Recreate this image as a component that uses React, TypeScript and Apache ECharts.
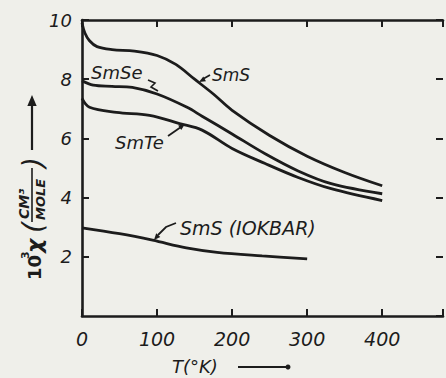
import React, { useEffect, useRef } from "react";
import * as echarts from "echarts";

const xTicks = [0, 100, 200, 300, 400];
const yTicks = [2, 4, 6, 8, 10];

const smsData: [number, number][] = [
  [0, 9.9], [4, 9.55], [10, 9.3], [20, 9.1], [40, 9.0], [70, 8.95], [100, 8.8],
  [125, 8.5], [150, 8.0], [175, 7.5], [200, 6.95], [250, 6.1], [300, 5.4],
  [350, 4.85], [400, 4.4],
];
const smseData: [number, number][] = [
  [0, 7.95], [15, 7.8], [40, 7.76], [67, 7.72], [100, 7.5], [140, 7.05],
  [160, 6.75], [200, 6.15], [244, 5.48], [288, 4.9], [332, 4.47], [400, 4.13],
];
const smteData: [number, number][] = [
  [0, 7.35], [10, 7.05], [46, 6.88], [90, 6.78], [130, 6.5], [160, 6.28],
  [200, 5.66], [244, 5.15], [288, 4.68], [332, 4.3], [400, 3.9],
];
const sms10Data: [number, number][] = [
  [0, 2.98], [50, 2.78], [94, 2.56], [139, 2.3], [180, 2.15], [240, 2.03], [300, 1.93],
];

const seriesNames = ["SmS", "SmSe", "SmTe", "SmS (IOKBAR)"];

const INK = "#1c1c1c";
const FONT = "'DejaVu Sans', sans-serif";

export default function App() {
  const ref = useRef<HTMLDivElement>(null);
  useEffect(() => {
    document.body.style.margin = "0";
    if (!ref.current) return;
    const chart = echarts.init(ref.current, undefined, { renderer: "svg" });
    const lineStyle = { color: INK, width: 2.8 };
    const mk = (name: string, data: [number, number][]) => ({
      name,
      type: "line",
      data,
      smooth: 0.35,
      showSymbol: false,
      lineStyle,
      xAxisIndex: 0,
      yAxisIndex: 0,
      z: 3,
    });
    const axisText = { color: INK, fontSize: 19, fontStyle: "italic", fontFamily: FONT };
    const arrowHead = (x: number, y: number, ang: number, s = 7) => {
      const a1 = ang + Math.PI - 0.4;
      const a2 = ang + Math.PI + 0.4;
      return {
        type: "polygon",
        shape: {
          points: [
            [x, y],
            [x + s * Math.cos(a1), y + s * Math.sin(a1)],
            [x + s * Math.cos(a2), y + s * Math.sin(a2)],
          ],
        },
        style: { fill: INK },
      };
    };
    const line = (pts: number[][], w = 1.8) => ({
      type: "polyline",
      shape: { points: pts },
      style: { stroke: INK, lineWidth: w, fill: "none" },
    });
    const label = (t: string, x: number, y: number, size = 16) => ({
      type: "text",
      x,
      y,
      style: {
        text: t,
        fill: INK,
        font: `italic ${size}px ${FONT}`,
        verticalAlign: "middle",
      },
    });
    const axisCommon = {
      type: "value",
      axisLine: { show: true, onZero: false, lineStyle: { color: INK, width: 2.6 } },
      axisTick: { show: true, inside: true, length: 7, lineStyle: { color: INK, width: 2 } },
      splitLine: { show: false },
    };
    chart.setOption({
      animation: false,
      backgroundColor: "#efefea",
      grid: { left: 82, top: 20, right: 0, bottom: 62 },
      xAxis: [
        {
          ...axisCommon,
          min: 0,
          max: 481,
          interval: 100,
          axisLabel: { ...axisText, margin: 13, formatter: (v: number) => (xTicks.includes(v) ? String(v) : "") },
        },
        {
          ...axisCommon,
          position: "top",
          min: 0,
          max: 481,
          interval: 100,
          axisLabel: { show: false },
        },
      ],
      yAxis: [
        {
          ...axisCommon,
          min: 0,
          max: 10,
          interval: 2,
          axisLabel: {
            ...axisText,
            fontSize: 18,
            margin: 10,
            showMinLabel: false,
            formatter: (v: number) => (yTicks.includes(v) ? String(v) : ""),
          },
        },
        {
          ...axisCommon,
          position: "right",
          min: 0,
          max: 10,
          interval: 2,
          axisLine: { show: false, onZero: false },
          axisLabel: { show: false },
        },
      ],
      series: [
        mk(seriesNames[0], smsData),
        mk(seriesNames[1], smseData),
        mk(seriesNames[2], smteData),
        mk(seriesNames[3], sms10Data),
      ],
      graphic: [
        label("SmSe", 91, 72, 18),
        line([[148, 80], [155, 83], [151, 87], [158, 91]], 1.6),
        label("SmS", 212, 75, 17),
        line([[210, 75], [203, 79]]),
        arrowHead(199, 82, Math.atan2(5, -9), 7),
        label("SmTe", 115, 142, 18),
        line([[168, 136], [181, 127]]),
        arrowHead(185, 124, Math.atan2(-9, 13), 7),
        label("SmS (IOKBAR)", 180, 228, 19),
        line([[176, 223], [166, 227], [158, 235]]),
        arrowHead(154, 240, Math.atan2(8, -7), 7),
        {
          type: "group",
          x: 33,
          y: 280,
          rotation: Math.PI / 2,
          children: [
            { type: "text", x: 0, y: 1, style: { text: "10", fill: INK, font: `bold 18px ${FONT}`, verticalAlign: "middle" } },
            { type: "text", x: 21, y: -8, style: { text: "3", fill: INK, font: `bold 11px ${FONT}`, verticalAlign: "middle" } },
            { type: "text", x: 27, y: 1, style: { text: "χ", fill: INK, font: `italic bold 22px ${FONT}`, verticalAlign: "middle" } },
            { type: "text", x: 47, y: 0, style: { text: "(", fill: INK, font: `italic 28px ${FONT}`, verticalAlign: "middle" } },
            { type: "text", x: 61, y: -9, style: { text: "CM³", fill: INK, font: `italic bold 14px ${FONT}`, verticalAlign: "middle" } },
            { type: "line", shape: { x1: 58, y1: -1, x2: 112, y2: -1 }, style: { stroke: INK, lineWidth: 1.6 } },
            { type: "text", x: 60, y: 7, style: { text: "MOLE", fill: INK, font: `italic bold 13px ${FONT}`, verticalAlign: "middle" } },
            { type: "text", x: 112, y: 0, style: { text: ")", fill: INK, font: `italic 28px ${FONT}`, verticalAlign: "middle" } },
          ],
        },
        line([[32, 150], [32, 104]], 2.2),
        arrowHead(32, 95, -Math.PI / 2, 12),
        label("T(°K)", 172, 366, 18),
        line([[238, 367], [288, 367]], 2),
        { type: "circle", shape: { cx: 288, cy: 367, r: 2.5 }, style: { fill: INK } },
      ],
    });
    return () => chart.dispose();
  }, []);
  return <div ref={ref} style={{ width: 446, height: 378 }} />;
}
